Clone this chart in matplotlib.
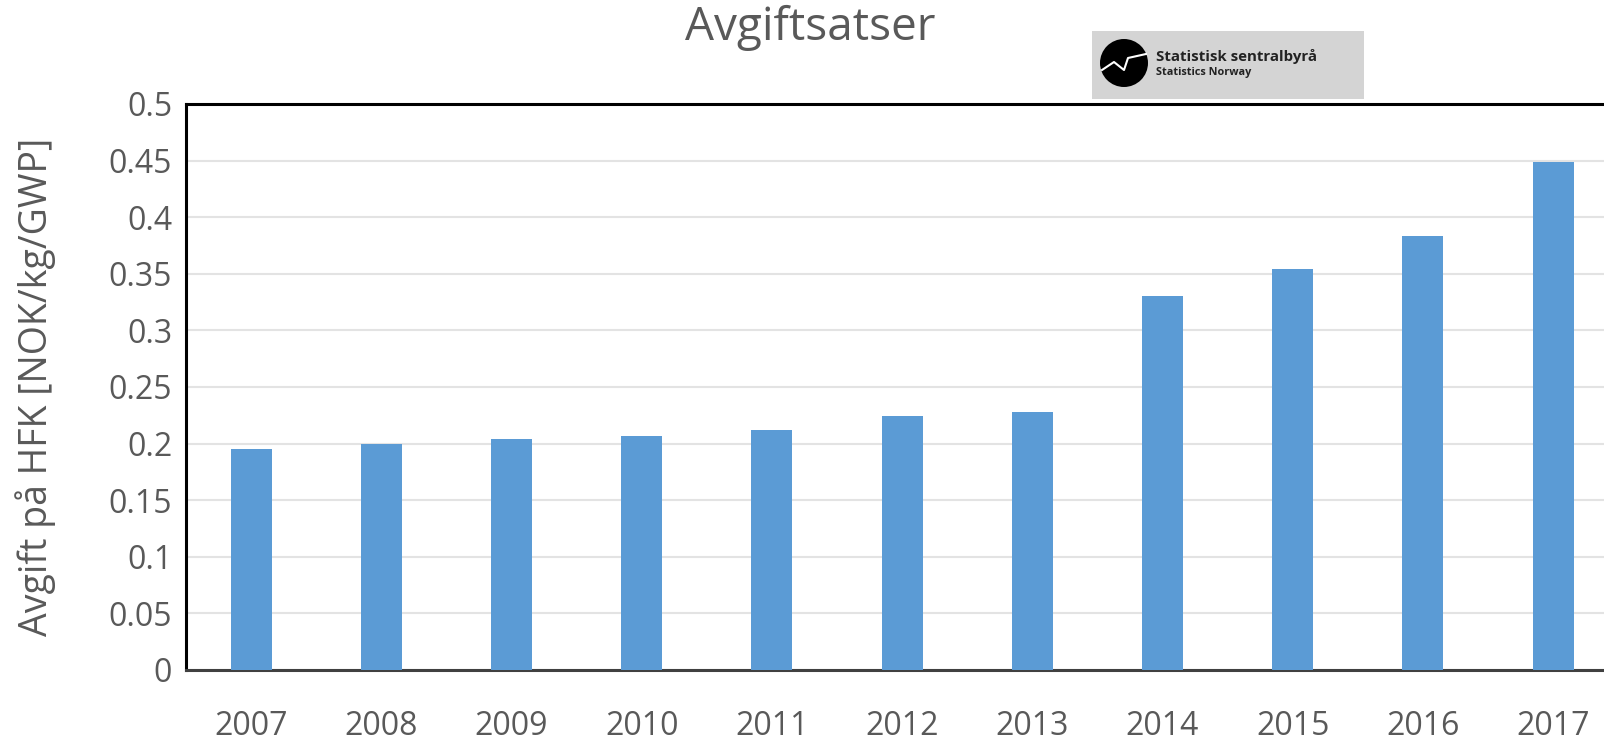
# Avgiftsatser for HFK, 2007-2017
import numpy as np
import matplotlib.pyplot as plt
from matplotlib.patches import Rectangle, Ellipse
from matplotlib.lines import Line2D

years = ['2007', '2008', '2009', '2010', '2011', '2012', '2013', '2014', '2015', '2016', '2017']
avgift = [0.195, 0.200, 0.204, 0.207, 0.212, 0.224, 0.228, 0.330, 0.354, 0.383, 0.449]
yticks = [0, 0.05, 0.1, 0.15, 0.2, 0.25, 0.3, 0.35, 0.4, 0.45, 0.5]
ytick_labels = ['0', '0.05', '0.1', '0.15', '0.2', '0.25', '0.3', '0.35', '0.4', '0.45', '0.5']

plt.rcParams['font.family'] = ['Open Sans', 'DejaVu Sans']
grey = '#595959'

W, H = 1604, 743
fig = plt.figure(figsize=(W / 100, H / 100), dpi=100)
# axes runs off the right edge, like the cropped original
ax = fig.add_axes([0.116, 0.0983, 0.8928, 0.7618])

x = np.arange(len(years))
ax.bar(x, avgift, width=0.315, color='#5b9bd5', zorder=3)

ax.set_xlim(-0.5, len(years) - 0.5)
ax.set_ylim(0, 0.5)
ax.set_yticks(yticks)
ax.set_yticklabels(ytick_labels)
ax.set_xticks(x)
ax.set_xticklabels(years)
ax.tick_params(axis='both', length=0, labelsize=23, labelcolor=grey)
ax.tick_params(axis='y', pad=10)
ax.tick_params(axis='x', pad=29)
ax.yaxis.grid(True, color='#e3e3e3', linewidth=1.5, zorder=0)

for side in ['left', 'top']:
    ax.spines[side].set_color('black')
    ax.spines[side].set_linewidth(2.2)
ax.spines['bottom'].set_color('#404040')
ax.spines['bottom'].set_linewidth(2.2)
ax.spines['right'].set_visible(False)

ax.set_ylabel('Avgift på HFK [NOK/kg/GWP]', fontsize=27, color=grey)
ax.yaxis.set_label_coords(-0.0908, 0.5)

fig.text(0.505, 0.962, 'Avgiftsatser', ha='center', va='center', fontsize=33, color=grey)

# SSB logo box
fig.patches.append(Rectangle((1092 / W, 1 - 99 / H), 272 / W, 68 / H,
                             transform=fig.transFigure, facecolor='#d4d4d4', edgecolor='none'))
fig.patches.append(Ellipse((1124 / W, 1 - 63 / H), 48 / W, 48 / H,
                           transform=fig.transFigure, facecolor='black', edgecolor='none'))
sx = np.array([1102, 1114, 1124, 1128, 1146]) / W
sy = 1 - np.array([70, 62, 70, 58, 54]) / H
fig.lines.append(Line2D(sx, sy, transform=fig.transFigure, color='white', linewidth=1.5))
fig.text(1156 / W, 1 - 57 / H, 'Statistisk sentralbyrå', ha='left', va='center',
         fontsize=10.8, fontweight='bold', color='#222222')
fig.text(1156 / W, 1 - 72 / H, 'Statistics Norway', ha='left', va='center',
         fontsize=7.8, fontweight='bold', color='#222222')

fig.savefig('out.png', dpi=100)
